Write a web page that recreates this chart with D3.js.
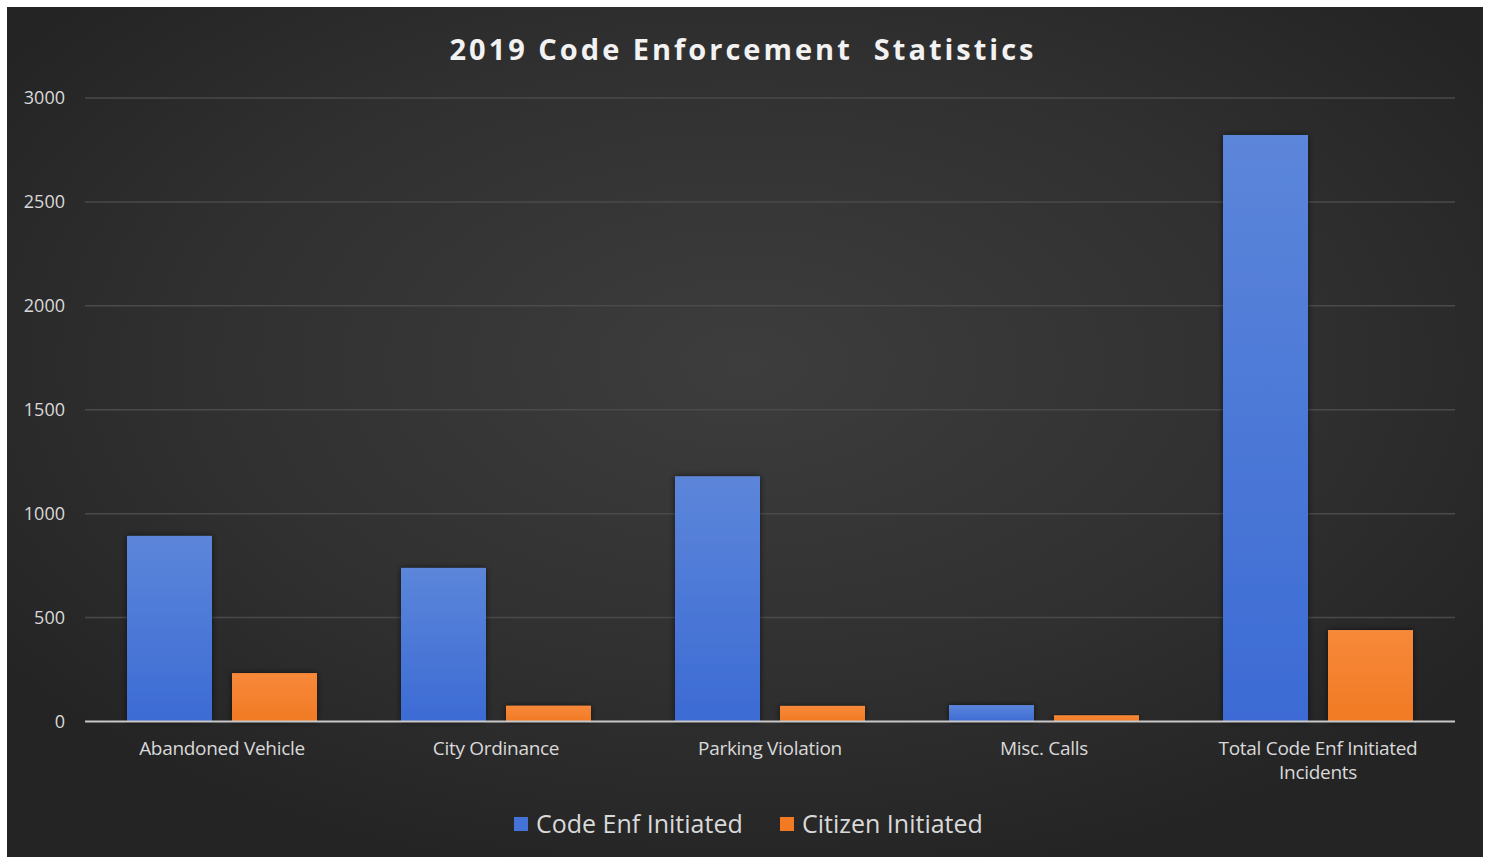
<!DOCTYPE html>
<html>
<head>
<meta charset="utf-8">
<script src="https://cdn.jsdelivr.net/npm/d3@7"></script>
<style>
  html, body { margin: 0; padding: 0; background: #ffffff; }
  svg { display: block; }
</style>
</head>
<body>
<svg id="chart" width="1488" height="857"></svg>
<script>
// 2019 code enforcement statistics
const categories = ["Abandoned Vehicle", "City Ordinance", "Parking Violation", "Misc. Calls", "Total Code Enf Initiated Incidents"];
const seriesNames = ["Code Enf Initiated", "Citizen Initiated"];
const codeEnfInitiated = [893, 739, 1180, 79, 2822];
const citizenInitiated = [233, 76, 75, 30, 440];
const yTicks = [0, 500, 1000, 1500, 2000, 2500, 3000];
const titleText = "2019 Code Enforcement  Statistics";

const rows = categories.map((c, i) => ({
  category: c,
  values: [codeEnfInitiated[i], citizenInitiated[i]]
}));

const svg = d3.select("#chart");
const W = 1488, H = 857;
const FONT = "'Open Sans', 'DejaVu Sans', sans-serif";

const defs = svg.append("defs");

// panel background: dark with lighter centre
const bg = defs.append("radialGradient").attr("id", "bgGrad")
  .attr("cx", "50%").attr("cy", "42%").attr("r", "62%");
bg.append("stop").attr("offset", "0%").attr("stop-color", "#3d3d3d");
bg.append("stop").attr("offset", "60%").attr("stop-color", "#303030");
bg.append("stop").attr("offset", "100%").attr("stop-color", "#242424");

const blueGrad = defs.append("linearGradient").attr("id", "blueGrad")
  .attr("x1", 0).attr("y1", 0).attr("x2", 0).attr("y2", 1);
blueGrad.append("stop").attr("offset", "0%").attr("stop-color", "#5c86da");
blueGrad.append("stop").attr("offset", "100%").attr("stop-color", "#3c6bd4");

const orangeGrad = defs.append("linearGradient").attr("id", "orangeGrad")
  .attr("x1", 0).attr("y1", 0).attr("x2", 0).attr("y2", 1);
orangeGrad.append("stop").attr("offset", "0%").attr("stop-color", "#f7893a");
orangeGrad.append("stop").attr("offset", "100%").attr("stop-color", "#f17a24");

const shadow = defs.append("filter").attr("id", "barShadow")
  .attr("x", "-20%").attr("y", "-20%").attr("width", "140%").attr("height", "140%");
shadow.append("feDropShadow").attr("dx", 0).attr("dy", 0)
  .attr("stdDeviation", 3).attr("flood-color", "#000").attr("flood-opacity", 0.6);

svg.append("rect")
  .attr("x", 7).attr("y", 7).attr("width", 1476).attr("height", H - 7)
  .attr("fill", "url(#bgGrad)");

// title
svg.append("text")
  .attr("x", 743).attr("y", 60)
  .attr("text-anchor", "middle")
  .attr("font-family", FONT)
  .attr("font-weight", 700)
  .attr("font-size", 29)
  .attr("letter-spacing", 3)
  .style("white-space", "pre")
  .attr("xml:space", "preserve")
  .attr("fill", "#f2f2f2")
  .text(titleText);

const plot = { left: 85, right: 1455, top: 98, bottom: 721.5 };

const x0 = d3.scaleBand()
  .domain(categories)
  .range([plot.left, plot.right])
  .paddingInner(0)
  .paddingOuter(0);

const inner = d3.scaleBand()
  .domain(seriesNames)
  .range([42, x0.bandwidth() - 42])
  .paddingInner(20 / 105);

const y = d3.scaleLinear()
  .domain([0, 3000])
  .range([plot.bottom, plot.top]);

// gridlines
svg.append("g")
  .selectAll("line")
  .data(yTicks.filter(t => t > 0))
  .join("line")
  .attr("x1", plot.left).attr("x2", plot.right)
  .attr("y1", d => y(d)).attr("y2", d => y(d))
  .attr("stroke", "#4a4a4a")
  .attr("stroke-width", 1.5);

// y axis labels
const yAxis = d3.axisLeft(y).tickValues(yTicks).tickFormat(d3.format("d")).tickSize(0).tickPadding(0);
const gy = svg.append("g").attr("transform", "translate(65,0)").call(yAxis);
gy.select(".domain").remove();
gy.selectAll("text")
  .attr("font-family", FONT)
  .attr("font-size", 18)
  .attr("fill", "#d9d9d9");

// bars
const colours = ["url(#blueGrad)", "url(#orangeGrad)"];
const groups = svg.append("g")
  .selectAll("g")
  .data(rows)
  .join("g")
  .attr("transform", d => `translate(${x0(d.category)},0)`);

groups.selectAll("rect")
  .data(d => d.values.map((v, i) => ({ name: seriesNames[i], value: v, i })))
  .join("rect")
  .attr("x", d => inner(d.name))
  .attr("width", inner.bandwidth())
  .attr("y", d => y(d.value))
  .attr("height", d => y(0) - y(d.value))
  .attr("fill", d => colours[d.i])
  .attr("filter", "url(#barShadow)");

// baseline
svg.append("line")
  .attr("x1", plot.left).attr("x2", plot.right)
  .attr("y1", y(0)).attr("y2", y(0))
  .attr("stroke", "#c8c8c8")
  .attr("stroke-width", 2);

// category labels (wrapped)
const wrapped = {
  "Total Code Enf Initiated Incidents": ["Total Code Enf Initiated", "Incidents"]
};
const xl = svg.append("g");
categories.forEach(c => {
  const lines = wrapped[c] || [c];
  const t = xl.append("text")
    .attr("x", x0(c) + x0.bandwidth() / 2)
    .attr("y", 755)
    .attr("text-anchor", "middle")
    .attr("font-family", FONT)
    .attr("font-size", 19)
    .attr("letter-spacing", -0.3)
    .attr("fill", "#d9d9d9");
  lines.forEach((ln, k) => {
    t.append("tspan")
      .attr("x", x0(c) + x0.bandwidth() / 2)
      .attr("dy", k === 0 ? 0 : 24)
      .text(ln);
  });
});

// legend
const legendItems = [
  { name: seriesNames[0], color: "#4472d6", x: 514 },
  { name: seriesNames[1], color: "#f27a22", x: 780 }
];
const lg = svg.append("g");
legendItems.forEach(it => {
  lg.append("rect")
    .attr("x", it.x).attr("y", 817)
    .attr("width", 14).attr("height", 14)
    .attr("fill", it.color);
  lg.append("text")
    .attr("x", it.x + 22).attr("y", 833)
    .attr("font-family", FONT)
    .attr("font-size", 25)
    .attr("fill", "#d9d9d9")
    .text(it.name);
});
</script>
</body>
</html>
